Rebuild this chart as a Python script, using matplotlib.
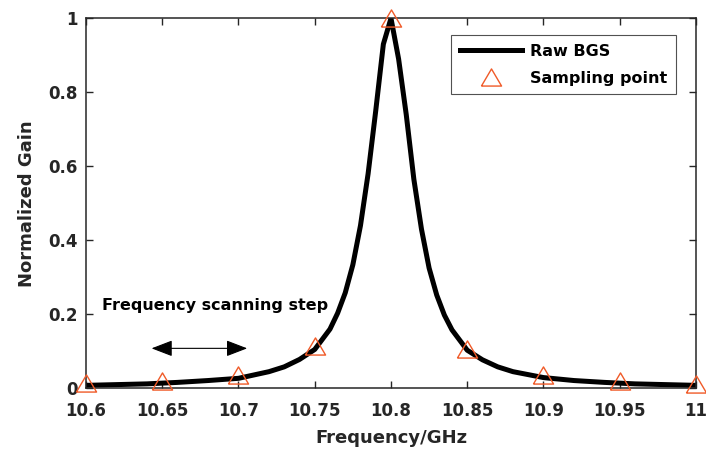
import matplotlib.pyplot as plt

plt.rcParams['font.family'] = ['DejaVu Sans']
plt.rcParams['font.weight'] = 'bold'

# raw BGS curve
freq = [10.60, 10.62, 10.64, 10.66, 10.68, 10.70, 10.72, 10.73, 10.74, 10.75,
        10.76, 10.765, 10.77, 10.775, 10.78, 10.785, 10.79, 10.795, 10.80,
        10.805, 10.81, 10.815, 10.82, 10.825, 10.83, 10.835, 10.84, 10.85,
        10.86, 10.87, 10.88, 10.90, 10.92, 10.94, 10.96, 10.98, 11.00]
gain = [0.008, 0.010, 0.012, 0.016, 0.021, 0.027, 0.045, 0.058, 0.078, 0.105,
        0.160, 0.203, 0.258, 0.334, 0.440, 0.580, 0.750, 0.930, 1.000,
        0.890, 0.740, 0.565, 0.430, 0.325, 0.252, 0.198, 0.158, 0.103,
        0.077, 0.058, 0.045, 0.029, 0.021, 0.016, 0.012, 0.010, 0.008]

# sampling points
samp_freq = [10.60, 10.65, 10.70, 10.75, 10.80, 10.85, 10.90, 10.95, 11.00]
samp_gain = [0.0135, 0.019, 0.035, 0.114, 1.0, 0.106, 0.035, 0.020, 0.0125]

xticks = [10.6, 10.65, 10.7, 10.75, 10.8, 10.85, 10.9, 10.95, 11]
xlabels = ['10.6', '10.65', '10.7', '10.75', '10.8', '10.85', '10.9', '10.95', '11']
yticks = [0, 0.2, 0.4, 0.6, 0.8, 1]
ylabels = ['0', '0.2', '0.4', '0.6', '0.8', '1']

# MATLAB style triangle, a bit wider than tall
tri = [(-1, -0.85), (1, -0.85), (0, 0.85), (-1, -0.85)]

fig = plt.figure(figsize=(7.06, 4.57), dpi=100)
ax = fig.add_axes([0.1218, 0.1503, 0.864, 0.8097])

ax.plot(freq, gain, color='black', lw=3.6, label='Raw BGS', zorder=2)
ax.plot(samp_freq, samp_gain, ls='none', marker=tri, ms=14.5, mfc='none',
        mec='#f05a28', mew=1.0, label='Sampling point', clip_on=False, zorder=3)

ax.set_xlim(10.6, 11)
ax.set_ylim(0, 1)
ax.set_xticks(xticks)
ax.set_xticklabels(xlabels)
ax.set_yticks(yticks)
ax.set_yticklabels(ylabels)
ax.tick_params(direction='in', length=5, width=1, top=True, right=True,
               labelsize=12, colors='#262626')
ax.tick_params(axis='x', pad=10)
ax.tick_params(axis='y', pad=6)
for s in ax.spines.values():
    s.set_linewidth(1.1)
    s.set_color('#262626')

ax.set_xlabel('Frequency/GHz', fontsize=13, fontweight='bold', color='#262626', labelpad=6)
ax.set_ylabel('Normalized Gain', fontsize=13, fontweight='bold', color='#262626', labelpad=9)

leg = ax.legend(loc='upper right', bbox_to_anchor=(0.968, 0.955), fontsize=11.5,
                frameon=True, fancybox=False, edgecolor='#262626',
                handlelength=3.9, handletextpad=0.5, borderpad=0.55,
                labelspacing=0.75, borderaxespad=0)
leg.get_frame().set_linewidth(0.8)

ax.text(10.6103, 0.225, 'Frequency scanning step', fontsize=11.5, fontweight='bold',
        va='center', ha='left', color='black')
ax.annotate('', xy=(10.643, 0.108), xytext=(10.7057, 0.108),
            arrowprops=dict(arrowstyle='<|-|>,head_length=1.3,head_width=0.5',
                            color='black', lw=0.8, shrinkA=0, shrinkB=0))

fig.savefig('out.png', dpi=100)
